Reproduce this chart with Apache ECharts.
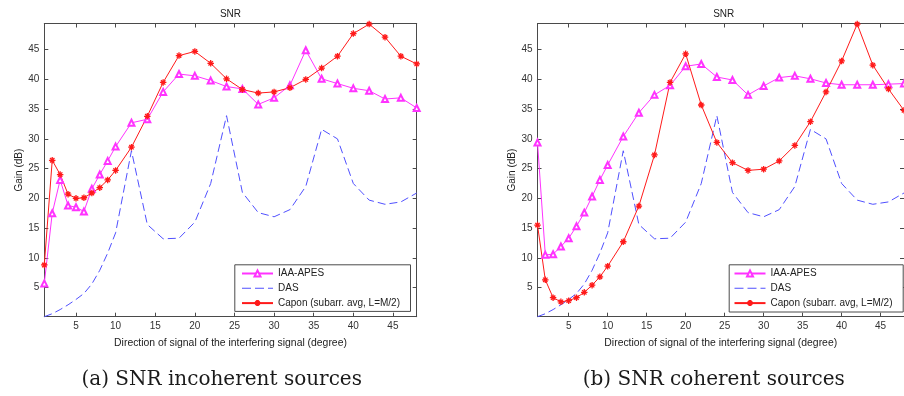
<!DOCTYPE html>
<html>
<head>
<meta charset="utf-8">
<script src="https://cdn.jsdelivr.net/npm/echarts@6/dist/echarts.min.js"></script>
<style>
  html, body { margin: 0; padding: 0; background: #fff; }
  #chart { width: 904px; height: 396px; }
</style>
</head>
<body>
<div id="chart"></div>
<script>
// Interfering-signal directions (degrees) at which the gains were evaluated
const angles = [1, 2, 3, 4, 5, 6, 7, 8, 9, 10, 12, 14, 16, 18, 20, 22, 24, 26, 28, 30, 32, 34, 36, 38, 40, 42, 44, 46, 48];
const tickValues = [5, 10, 15, 20, 25, 30, 35, 40, 45];

// (a) incoherent sources, gain in dB
const iaaIncoherent = [5.7, 17.5, 23.1, 18.8, 18.5, 17.8, 21.6, 24.0, 26.3, 28.7, 32.7, 33.3, 37.9, 40.9, 40.6, 39.8, 38.8, 38.4, 35.8, 36.9, 39.0, 44.9, 40.1, 39.3, 38.5, 38.1, 36.7, 36.9, 35.2];
const caponIncoherent = [8.8, 26.4, 24.0, 20.7, 20.0, 20.1, 20.9, 21.8, 23.1, 24.7, 28.6, 33.8, 39.5, 44.0, 44.7, 42.7, 40.1, 38.3, 37.7, 37.9, 38.6, 40.0, 41.9, 43.9, 47.7, 49.3, 47.1, 43.9, 42.6];
// DAS beamformer gain (same in both scenarios)
const dasGain = [0.1, 0.6, 1.3, 2.1, 3.0, 4.0, 5.6, 7.9, 10.8, 14.2, 28.0, 15.6, 13.2, 13.3, 16.0, 22.5, 33.9, 21.0, 17.6, 16.9, 18.1, 22.0, 31.6, 30.0, 22.5, 19.7, 19.0, 19.4, 20.9];

// (b) coherent sources, gain in dB
const iaaCoherent = [29.4, 10.5, 10.6, 11.9, 13.3, 15.3, 17.6, 20.3, 23.1, 25.6, 30.4, 34.4, 37.4, 39.0, 42.2, 42.6, 40.4, 39.9, 37.4, 38.9, 40.3, 40.6, 40.1, 39.4, 39.1, 39.1, 39.1, 39.2, 39.3];
const caponCoherent = [15.5, 6.3, 3.3, 2.6, 2.8, 3.3, 4.2, 5.4, 6.8, 8.6, 12.7, 18.7, 27.3, 39.5, 44.3, 35.7, 29.4, 26.0, 24.7, 24.9, 26.3, 28.9, 32.9, 37.9, 43.1, 49.3, 42.4, 38.4, 34.8];

const seriesNames = ['IAA-APES', 'DAS', 'Capon (subarr. avg, L=M/2)'];
const panelTitle = 'SNR';
const xName = 'Direction of signal of the interfering signal (degree)';
const yName = 'Gain (dB)';
const captions = ['(a) SNR incoherent sources', '(b) SNR coherent sources'];

const X_MIN = 1, X_MAX = 48, Y_MIN = 0.1, Y_MAX = 49.4;
const AXIS_COLOR = '#4a4a4a';
const FONT = 'Liberation Sans, Arial, sans-serif';
const COLORS = { iaa: '#ff33ff', das: '#5050ff', capon: '#ff1a1a' };
const ASTERISK = 'path://M5 0L5 10M0 5L10 5M1.6 1.6L8.4 8.4M8.4 1.6L1.6 8.4';
// dashed-line legend icon (31 x 7.5 box, tiny corner anchors keep the box size)
const DASH_ICON = 'path://M0 0h0.01v0.01h-0.01z M30.99 7.49h0.01v0.01h-0.01z ' +
  'M0 3.25h9v1h-9z M13 3.25h9v1h-9z M26 3.25h5v1h-5z';

const grids = [
  { left: 44.3, top: 23.5, width: 372.4, height: 293.2 },
  { left: 537.5, top: 23.5, width: 372.4, height: 293.2 }
];

function pairs(ys) { return angles.map((a, i) => [a, ys[i]]); }

function axisBase(min, max, showLabels) {
  return {
    type: 'value', min: min, max: max,
    axisLine: { show: true, onZero: false, lineStyle: { color: AXIS_COLOR, width: 1 } },
    axisTick: { show: true, inside: true, length: 4, customValues: tickValues, lineStyle: { color: AXIS_COLOR } },
    axisLabel: { show: showLabels, customValues: tickValues, color: '#333', fontFamily: FONT, fontSize: 10, margin: 5 },
    splitLine: { show: false }
  };
}

const xAxes = [], yAxes = [], series = [];
grids.forEach((g, gi) => {
  xAxes.push(Object.assign(axisBase(X_MIN, X_MAX, true), {
    gridIndex: gi, position: 'bottom',
    name: xName, nameLocation: 'middle', nameGap: 21.5,
    nameTextStyle: { color: '#222', fontFamily: FONT, fontSize: 10.4 }
  }));
  xAxes.push(Object.assign(axisBase(X_MIN, X_MAX, false), { gridIndex: gi, position: 'top' }));
  yAxes.push(Object.assign(axisBase(Y_MIN, Y_MAX, true), {
    gridIndex: gi, position: 'left',
    name: yName, nameLocation: 'middle', nameGap: 20,
    nameTextStyle: { color: '#222', fontFamily: FONT, fontSize: 10 }
  }));
  yAxes.push(Object.assign(axisBase(Y_MIN, Y_MAX, false), { gridIndex: gi, position: 'right' }));
});

const panels = [
  { iaa: iaaIncoherent, capon: caponIncoherent, das: dasGain },
  { iaa: iaaCoherent, capon: caponCoherent, das: dasGain }
];

panels.forEach((p, gi) => {
  const axisRef = { xAxisIndex: gi * 2, yAxisIndex: gi * 2 };
  series.push(Object.assign({
    name: seriesNames[0], type: 'line', data: pairs(p.iaa),
    symbol: 'emptyTriangle', symbolSize: 6,
    lineStyle: { color: COLORS.iaa, width: 1 },
    itemStyle: { color: COLORS.iaa, borderColor: COLORS.iaa, borderWidth: 1 },
    animation: false
  }, axisRef));
  series.push(Object.assign({
    name: seriesNames[1], type: 'line', data: pairs(p.das),
    symbol: 'none', showSymbol: false,
    lineStyle: { color: COLORS.das, width: 1, type: [8, 4] },
    itemStyle: { color: COLORS.das },
    animation: false
  }, axisRef));
  series.push(Object.assign({
    name: seriesNames[2], type: 'line', data: pairs(p.capon),
    symbol: ASTERISK, symbolSize: 6.5,
    lineStyle: { color: COLORS.capon, width: 1 },
    itemStyle: { color: COLORS.capon, borderColor: COLORS.capon, borderWidth: 1.3 },
    animation: false
  }, axisRef));
});

// Legend boxes, titles and captions
const legendBoxes = [
  { x: 234.3, y: 264.3, w: 175.7, h: 46.6 },
  { x: 728.7, y: 264.3, w: 174.0, h: 47.2 }
];
const graphics = [];
legendBoxes.forEach(b => {
  graphics.push({
    type: 'rect', z: 3,
    shape: { x: b.x + 0.5, y: b.y + 0.5, width: b.w, height: b.h },
    style: { fill: '#fff', stroke: AXIS_COLOR, lineWidth: 1 }
  });
});
grids.forEach((g) => {
  const cx = g.left + g.width / 2;
  graphics.push({
    type: 'text', z: 5, x: cx, y: 14,
    style: { text: panelTitle, fill: '#222', font: '10px ' + FONT, textAlign: 'center', textVerticalAlign: 'middle' }
  });
});
const captionCenters = [221.7, 713.7];
captions.forEach((c, i) => {
  graphics.push({
    type: 'text', z: 5, x: captionCenters[i], y: 380,
    style: { text: c, fill: '#1a1a1a', font: '20px "DejaVu Serif", serif', textAlign: 'center', textVerticalAlign: 'middle' }
  });
});

const legends = [241, 733.5].map(left => ({
  left: left, top: 268.5, orient: 'vertical',
  itemWidth: 31, itemHeight: 7.5, itemGap: 4.8, padding: 0,
  textStyle: { color: '#222', fontFamily: FONT, fontSize: 10 },
  data: [
    { name: seriesNames[0] },
    { name: seriesNames[1], icon: DASH_ICON, itemStyle: { color: COLORS.das, borderWidth: 0 } },
    { name: seriesNames[2] }
  ],
  z: 6
}));

const chart = echarts.init(document.getElementById('chart'), null, { renderer: 'canvas' });
chart.setOption({
  backgroundColor: '#fff',
  animation: false,
  grid: grids,
  xAxis: xAxes,
  yAxis: yAxes,
  legend: legends,
  graphic: { elements: graphics },
  series: series
});
</script>
</body>
</html>
